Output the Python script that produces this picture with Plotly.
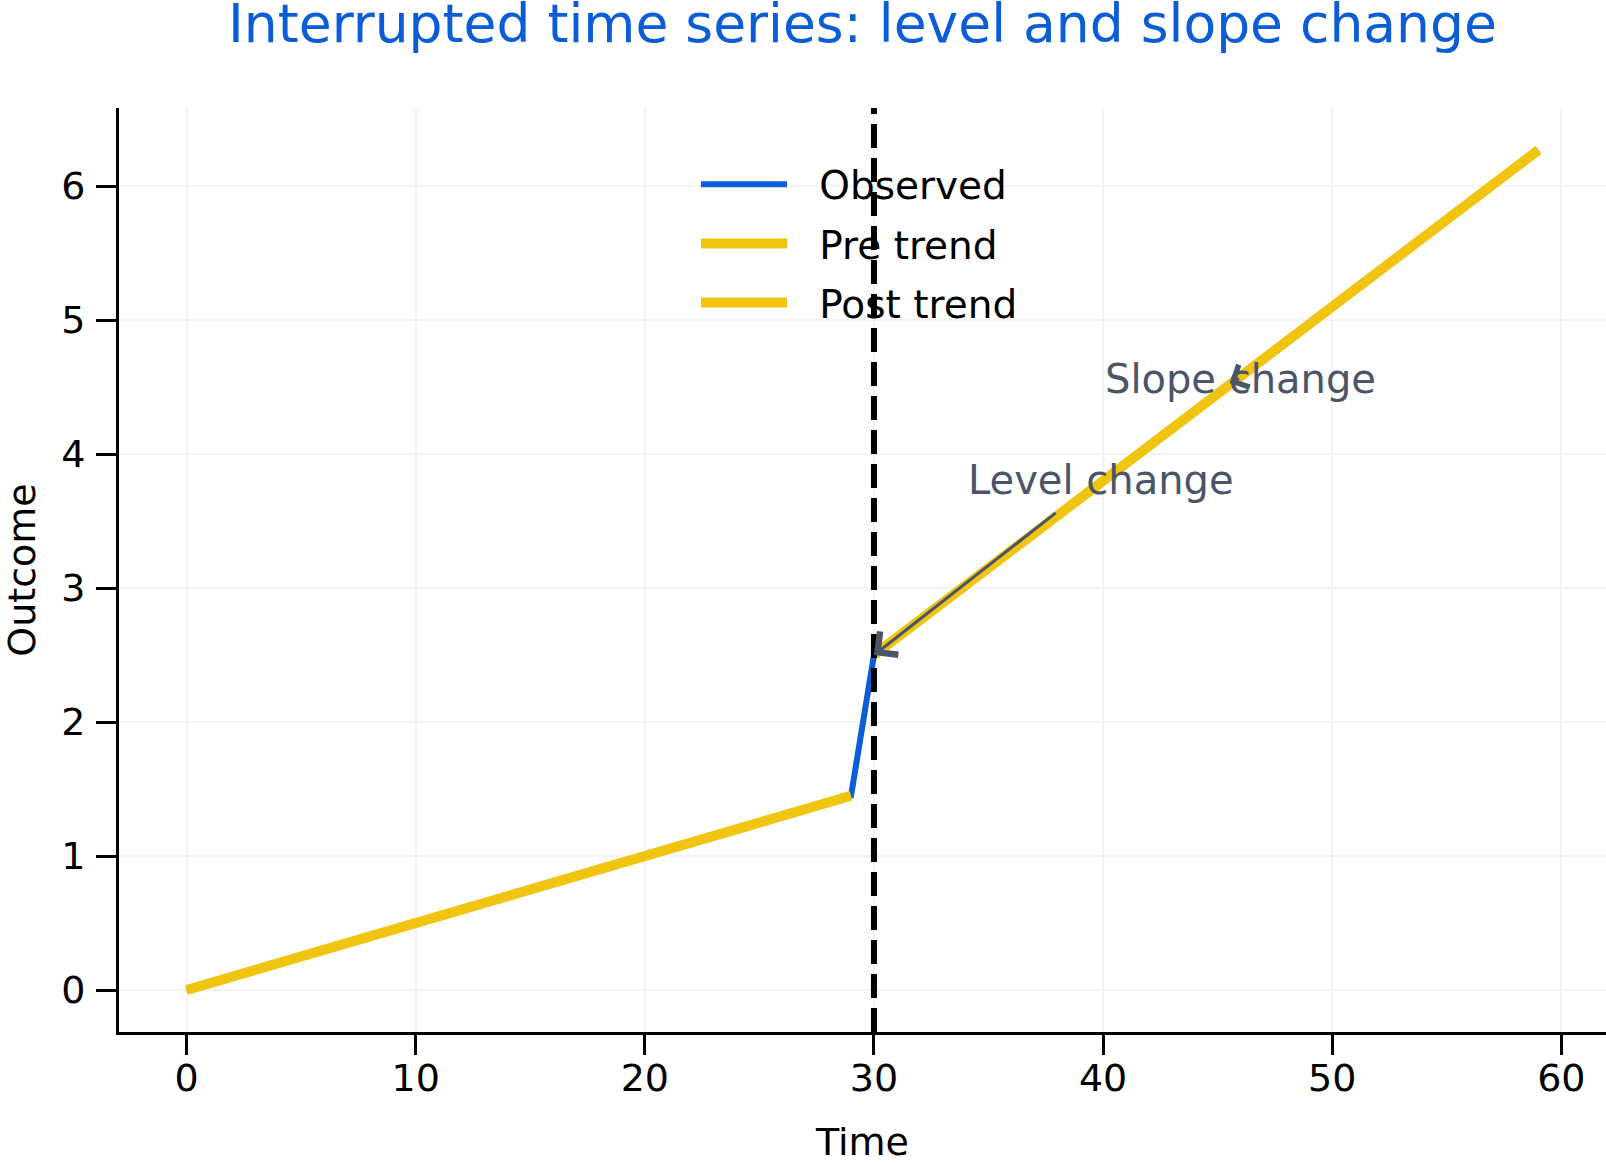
import plotly.graph_objects as go

# values
obs_t = [0, 29, 30, 59]
obs_y = [0.0, 1.45, 2.5, 6.27]

pre_t = [0, 29]
pre_y = [0.0, 1.45]

post_t = [30, 59]
post_y = [2.5, 6.27]

interruption = 30

x_ticks = [0, 10, 20, 30, 40, 50, 60]
y_ticks = [0, 1, 2, 3, 4, 5, 6]

BLUE = "#0b5dd7"
YELLOW = "#f1c40f"
GREY = "#4a5568"
FONT = "DejaVu Sans"

# en space + thin space: widens the gap between legend line and label
GAP = "\u2002\u2009"

fig = go.Figure()
fig.add_trace(go.Scatter(x=obs_t, y=obs_y, mode="lines", name=GAP + "Observed",
                         line=dict(color=BLUE, width=6), legendgroup="a"))
fig.add_trace(go.Scatter(x=pre_t, y=pre_y, mode="lines", name=GAP + "Pre trend",
                         line=dict(color=YELLOW, width=10), legendgroup="b"))
fig.add_trace(go.Scatter(x=post_t, y=post_y, mode="lines", name=GAP + "Post trend",
                         line=dict(color=YELLOW, width=10), legendgroup="c"))

# interruption line
fig.add_shape(type="line", x0=interruption, x1=interruption, y0=0, y1=1,
              xref="x", yref="paper", layer="above",
              line=dict(color="black", width=6, dash="24px,10px"))

# level change
fig.add_annotation(x=34.0, y=3.81, xref="x", yref="y", text="Level change",
                   showarrow=False, xanchor="left", yanchor="middle",
                   font=dict(family=FONT, size=40, color=GREY))
fig.add_annotation(x=post_t[0], y=post_y[0], ax=38.0, ay=3.57,
                   xref="x", yref="y", axref="x", ayref="y", text="",
                   showarrow=True, arrowhead=4, arrowsize=1.9, arrowwidth=3,
                   arrowcolor=GREY, standoff=0, startstandoff=0)

# slope change
fig.add_annotation(x=40.0, y=4.56, xref="x", yref="y", text="Slope change",
                   showarrow=False, xanchor="left", yanchor="middle",
                   font=dict(family=FONT, size=40, color=GREY))
fig.add_annotation(x=45.52, y=4.53, ax=46.0, ay=4.57,
                   xref="x", yref="y", axref="x", ayref="y", text="",
                   showarrow=True, arrowhead=4, arrowsize=1.6, arrowwidth=3,
                   arrowcolor=GREY, standoff=0, startstandoff=0)

axis_common = dict(
    showline=True, linecolor="black", linewidth=3, mirror=False,
    ticks="outside", ticklen=20, tickwidth=3, tickcolor="black",
    showgrid=True, gridcolor="#f3f3f3", gridwidth=2, zeroline=False,
    tickfont=dict(family=FONT, size=38, color="black"),
    automargin=False,
)

fig.update_xaxes(range=[-2.95, 61.95], tickvals=x_ticks, ticklabelstandoff=-10,
                 title=dict(text="Time", standoff=30,
                            font=dict(family=FONT, size=38, color="black")),
                 **axis_common)
fig.update_yaxes(range=[-0.3135, 6.5835], tickvals=y_ticks, ticklabelstandoff=3,
                 title=dict(text="Outcome", standoff=48,
                            font=dict(family=FONT, size=38, color="black")),
                 **axis_common)

fig.update_layout(
    width=1606, height=1164,
    margin=dict(l=119, r=0, t=108, b=132),
    paper_bgcolor="white", plot_bgcolor="white",
    title=dict(text="Interrupted time series: level and slope change",
               x=0.5, xref="paper", xanchor="center",
               y=1.0, yref="container", yanchor="top", pad=dict(t=5),
               font=dict(family=FONT, size=53.5, color=BLUE)),
    legend=dict(x=0.388, y=0.952, xanchor="left", yanchor="top",
                bgcolor="rgba(0,0,0,0)", traceorder="grouped", tracegroupgap=5.5,
                itemwidth=86,
                font=dict(family=FONT, size=39, color="black")),
    font=dict(family=FONT),
)

# page is shot from its top-left corner, so drop the default body margin
fig.write_html("out.html", config={"displayModeBar": False},
               post_script="document.body.style.margin='0';")
